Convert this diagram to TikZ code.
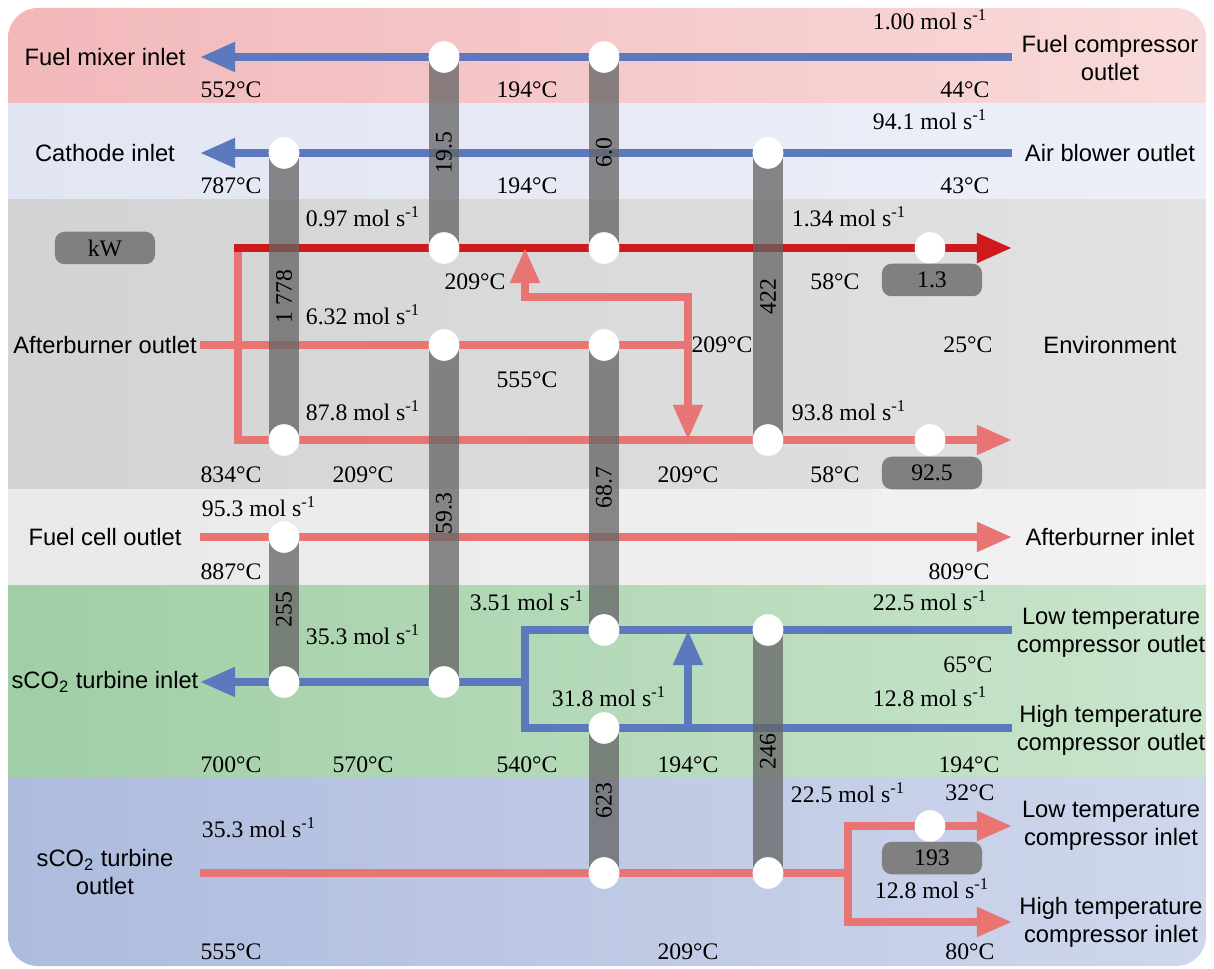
\documentclass[tikz,border=0pt]{standalone}
\usepackage{fontspec}
\setmainfont{Liberation Serif}
\setsansfont{Liberation Sans}
\usepackage{tikz}
\usetikzlibrary{arrows.meta, positioning, calc, shapes.geometric}
\usepackage{xcolor}

\definecolor{coldblue}{RGB}{92,121,190}
\definecolor{flamered}{RGB}{206,26,28}
\definecolor{hotpink}{RGB}{232,116,116}
\definecolor{hexgray}{RGB}{100,100,100}
\definecolor{boxgray}{RGB}{128,128,128}
\definecolor{pinkL}{RGB}{242,184,186}
\definecolor{pinkR}{RGB}{249,218,218}
\definecolor{lavL}{RGB}{226,229,243}
\definecolor{lavR}{RGB}{237,239,248}
\definecolor{greyL}{RGB}{211,211,211}
\definecolor{greyR}{RGB}{226,226,226}
\definecolor{paleL}{RGB}{233,233,233}
\definecolor{paleR}{RGB}{242,242,242}
\definecolor{greenL}{RGB}{160,206,165}
\definecolor{greenR}{RGB}{202,229,204}
\definecolor{blueL}{RGB}{173,187,221}
\definecolor{blueR}{RGB}{207,215,236}

\newcommand{\molrate}[1]{#1 mol s\textsuperscript{-1}}

\tikzset{
  streamline/.style={line width=4.4pt, line join=miter},
  coldline/.style={streamline, draw=coldblue},
  flameline/.style={streamline, draw=flamered},
  hotline/.style={streamline, draw=hotpink},
  hexbar/.style={line width=17.5pt, draw=hexgray, draw opacity=0.75},
  hexdot/.style={ellipse, fill=white, minimum width=17.5pt, minimum height=18pt, inner sep=0pt},
  portlabel/.style={font=\sffamily\fontsize{13.5}{16}\selectfont, align=center, inner sep=0pt},
  vallabel/.style={font=\fontsize{13.5}{16}\selectfont, inner sep=0pt},
  dutylabel/.style={vallabel, rotate=90},
  kwbox/.style={vallabel, fill=boxgray, rounded corners=5.5pt, minimum width=57pt, minimum height=18.5pt},
}

\begin{document}
\begin{tikzpicture}[x=0.02cm, y=-0.02cm, >={Triangle[length=20pt, width=16pt]}]
\useasboundingbox (0,0) rectangle (1214,969);

% bands
\begin{scope}
  \clip[rounded corners=17pt] (8,8) rectangle (1206,966);
  \shade[left color=pinkL, right color=pinkR] (8,8) rectangle (1206,104);
  \shade[left color=lavL, right color=lavR] (8,104) rectangle (1206,200);
  \shade[left color=greyL, right color=greyR] (8,200) rectangle (1206,489);
  \shade[left color=paleL, right color=paleR] (8,489) rectangle (1206,585);
  \shade[left color=greenL, right color=greenR] (8,585) rectangle (1206,777);
  \shade[left color=blueL, right color=blueR] (8,777) rectangle (1206,966);
\end{scope}

% heat exchanger junctions
\coordinate (b1) at (444,57);
\coordinate (c1) at (604,57);
\coordinate (a2) at (284,153);
\coordinate (d2) at (768,153);
\coordinate (b3) at (444,248);
\coordinate (c3) at (604,248);
\coordinate (e3) at (930,248);
\coordinate (b4) at (444,345);
\coordinate (c4) at (604,345);
\coordinate (a5) at (284,440);
\coordinate (d5) at (768,440);
\coordinate (e5) at (930,440);
\coordinate (a6) at (284,537);
\coordinate (c7) at (604,630);
\coordinate (d7) at (768,630);
\coordinate (a8) at (284,682);
\coordinate (b8) at (444,682);
\coordinate (c9) at (604,728);
\coordinate (e10) at (930,826);
\coordinate (c11) at (604,873);
\coordinate (d11) at (768,873);

% stream ends and bends
\coordinate (fcomp) at (1012,57);
\coordinate (fmix) at (200,57);
\coordinate (blower) at (1012,153);
\coordinate (cathode) at (200,153);
\coordinate (loopstart) at (234,248);
\coordinate (loopcorner) at (238,248);
\coordinate (loopbottom) at (238,440);
\coordinate (envtop) at (1012,248);
\coordinate (envbottom) at (1012,440);
\coordinate (about) at (200,345);
\coordinate (split) at (688,345);
\coordinate (splittop) at (688,297);
\coordinate (mixtop) at (525,297);
\coordinate (mixin) at (525,248);
\coordinate (mixlow) at (688,440);
\coordinate (fcell) at (200,537);
\coordinate (abin) at (1012,537);
\coordinate (ltcout) at (1012,630);
\coordinate (htcout) at (1012,728);
\coordinate (mergetop) at (525,630);
\coordinate (mergelow) at (525,728);
\coordinate (merge) at (525,682);
\coordinate (turbin) at (200,682);
\coordinate (bypasslow) at (688,728);
\coordinate (bypasstop) at (688,630);
\coordinate (turbout) at (200,873);
\coordinate (fork) at (848,873);
\coordinate (forktop) at (848,826);
\coordinate (forklow) at (848,922);
\coordinate (ltcin) at (1012,826);
\coordinate (htcin) at (1012,922);

% streams
\draw[coldline, ->] (fcomp) -- (fmix);
\draw[coldline, ->] (blower) -- (cathode);
\draw[hotline, ->] (loopcorner) -- (loopbottom) -- (envbottom);
\draw[flameline, ->] (loopstart) -- (envtop);
\draw[hotline] (about) -- (split);
\draw[hotline, <->] (mixin) -- (mixtop) -- (splittop) -- (mixlow);
\draw[hotline, ->] (fcell) -- (abin);
\draw[coldline] (ltcout) -- (mergetop) -- (mergelow) -- (htcout);
\draw[coldline, ->] (merge) -- (turbin);
\draw[coldline, ->] (bypasslow) -- (bypasstop);
\draw[hotline] (turbout) -- (fork);
\draw[hotline, <->] (ltcin) -- (forktop) -- (forklow) -- (htcin);

% heat exchangers
\draw[hexbar] (b1) -- (b3) node[dutylabel, midway] (q1) {19.5};
\draw[hexbar] (c1) -- (c3) node[dutylabel, midway] (q2) {6.0};
\draw[hexbar] (a2) -- (a5) node[dutylabel, midway] (q3) {1 778};
\draw[hexbar] (d2) -- (d5) node[dutylabel, midway] (q4) {422};
\draw[hexbar] (b4) -- (b8) node[dutylabel, midway] (q5) {59.3};
\draw[hexbar] (c4) -- (c7) node[dutylabel, midway] (q6) {68.7};
\draw[hexbar] (a6) -- (a8) node[dutylabel, midway] (q7) {255};
\draw[hexbar] (d7) -- (d11) node[dutylabel, midway] (q8) {246};
\draw[hexbar] (c9) -- (c11) node[dutylabel, midway] (q9) {623};

\foreach \j in {b1,c1,a2,d2,b3,c3,e3,b4,c4,a5,d5,e5,a6,c7,d7,a8,b8,c9,e10,c11,d11}
  \node[hexdot] (dot-\j) at (\j) {};

% duty boxes
\node[kwbox] (unit) at (105,248) {kW};
\node[kwbox] (cool1) at (932,280) {1.3};
\node[kwbox] (cool2) at (932,473) {92.5};
\node[kwbox] (cool3) at (932,858) {193};

% port names
\node[portlabel] (fmixname) at (105,57) {Fuel mixer inlet};
\node[portlabel] (fcompname) at (1110,58) {Fuel compressor\\outlet};
\node[portlabel] (cathname) at (105,153) {Cathode inlet};
\node[portlabel] (blowname) at (1110,153) {Air blower outlet};
\node[portlabel] (aboutname) at (105,345) {Afterburner outlet};
\node[portlabel] (envname) at (1110,345) {Environment};
\node[portlabel] (fcellname) at (105,537) {Fuel cell outlet};
\node[portlabel] (abinname) at (1110,537) {Afterburner inlet};
\node[portlabel] (ltcoutname) at (1111,633) {Low temperature\\compressor outlet};
\node[portlabel] (htcoutname) at (1111,730) {High temperature\\compressor outlet};
\node[portlabel] (turbinname) at (105,682) {sCO\textsubscript{2} turbine inlet};
\node[portlabel] (turboutname) at (105,872) {sCO\textsubscript{2} turbine\\outlet};
\node[portlabel] (ltcinname) at (1111,826) {Low temperature\\compressor inlet};
\node[portlabel] (htcinname) at (1111,922) {High temperature\\compressor inlet};

% temperatures and flows
\node[vallabel] (f1) at (930,20) {\molrate{1.00}};
\node[vallabel] (t1) at (231,90) {552°C};
\node[vallabel] (t2) at (527,90) {194°C};
\node[vallabel] (t3) at (965,90) {44°C};
\node[vallabel] (f2) at (930,120) {\molrate{94.1}};
\node[vallabel] (t4) at (231,186) {787°C};
\node[vallabel] (t5) at (527,186) {194°C};
\node[vallabel] (t6) at (965,186) {43°C};
\node[vallabel] (f3) at (363,217) {\molrate{0.97}};
\node[vallabel] (f4) at (849,217) {\molrate{1.34}};
\node[vallabel] (t7) at (475,282) {209°C};
\node[vallabel] (t8) at (835,282) {58°C};
\node[vallabel] (f5) at (363,315) {\molrate{6.32}};
\node[vallabel] (t9) at (722,345) {209°C};
\node[vallabel] (t10) at (968,345) {25°C};
\node[vallabel] (t11) at (527,380) {555°C};
\node[vallabel] (f6) at (363,411) {\molrate{87.8}};
\node[vallabel] (f7) at (849,411) {\molrate{93.8}};
\node[vallabel] (t12) at (231,475) {834°C};
\node[vallabel] (t13) at (363,475) {209°C};
\node[vallabel] (t14) at (688,475) {209°C};
\node[vallabel] (t15) at (835,475) {58°C};
\node[vallabel] (f8) at (259,507) {\molrate{95.3}};
\node[vallabel] (t16) at (231,572) {887°C};
\node[vallabel] (t17) at (959,572) {809°C};
\node[vallabel] (f9) at (527,601) {\molrate{3.51}};
\node[vallabel] (f10) at (930,601) {\molrate{22.5}};
\node[vallabel] (f11) at (363,635) {\molrate{35.3}};
\node[vallabel] (t18) at (968,665) {65°C};
\node[vallabel] (f12) at (609,697) {\molrate{31.8}};
\node[vallabel] (f13) at (930,697) {\molrate{12.8}};
\node[vallabel] (t19) at (231,765) {700°C};
\node[vallabel] (t20) at (363,765) {570°C};
\node[vallabel] (t21) at (527,765) {540°C};
\node[vallabel] (t22) at (688,765) {194°C};
\node[vallabel] (t23) at (969,765) {194°C};
\node[vallabel] (f14) at (848,793) {\molrate{22.5}};
\node[vallabel] (t24) at (970,793) {32°C};
\node[vallabel] (f15) at (259,828) {\molrate{35.3}};
\node[vallabel] (f16) at (932,889) {\molrate{12.8}};
\node[vallabel] (t25) at (231,952) {555°C};
\node[vallabel] (t26) at (688,952) {209°C};
\node[vallabel] (t27) at (970,952) {80°C};
\end{tikzpicture}
\end{document}
